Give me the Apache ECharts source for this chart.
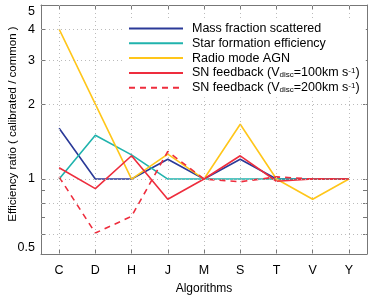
<!DOCTYPE html>
<html><head><meta charset="utf-8">
<script src="https://cdn.jsdelivr.net/npm/echarts@6/dist/echarts.min.js"></script>
<style>html,body{margin:0;padding:0;background:#fff}#c{width:374px;height:299px}</style>
</head><body><div id="c"></div>
<script>
const categories = ['C','D','H','J','M','S','T','V','Y'];
const massFraction = [1.6, 1.0, 1.0, 1.2, 1.0, 1.2, 1.0, 1.0, 1.0];
const starFormation = [1.0, 1.5, 1.25, 1.0, 1.0, 1.0, 1.0, 1.0, 1.0];
const radioAGN = [4.0, 2.0, 1.0, 1.26, 1.0, 1.66, 1.0, 0.83, 1.0];
const snFeedback100 = [1.11, 0.915, 1.24, 0.83, 1.0, 1.24, 0.98, 1.0, 1.0];
const snFeedback200 = [1.02, 0.607, 0.708, 1.29, 1.0, 0.975, 1.02, 1.0, 1.0];
const yTickLabels = [0.5, 1, 2, 3, 4, 5];
const yTicks = [0.5, 0.6, 0.7, 0.8, 0.9, 1, 2, 3, 4, 5];
const yGridValues = [0.6, 0.8, 1, 2, 3, 4];

const FONT = '"Liberation Sans", Arial, Helvetica, sans-serif';
const AXIS_COLOR = '#777';
const names = ['Mass fraction scattered','Star formation efficiency','Radio mode AGN',
  'SN feedback (Vdisc=100km s-1)','SN feedback (Vdisc=200km s-1)'];
const legendRich = {};
legendRich[names[3]] = 'SN feedback (V{sub|disc}=100km s{sup|-1})';
legendRich[names[4]] = 'SN feedback (V{sub|disc}=200km s{sup|-1})';

const chart = echarts.init(document.getElementById('c'), null, {renderer:'canvas'});
const mkSeries = (name, data, color, dashed) => ({
  name, type:'line', data, symbol:'none', xAxisIndex:0, yAxisIndex:0,
  lineStyle:{color, width:1.6, type: dashed ? [6,5] : 'solid'},
  itemStyle:{color}, emphasis:{disabled:true}, z:3
});
const option = {
  animation:false,
  textStyle:{fontFamily:FONT},
  grid:{left:41, right:7, top:5, bottom:45, containLabel:false, outerBoundsMode:'none'},
  legend:{
    orient:'vertical', left:123, top:19, padding:[3,6,3,5], backgroundColor:'#fff',
    itemGap:1.8, itemWidth:54, itemHeight:12.5, data:names,
    itemStyle:{opacity:0, borderWidth:0},
    formatter: n => legendRich[n] || n,
    textStyle:{fontSize:12.5, color:'#000', fontFamily:FONT, lineHeight:12.5, padding:[0,0,0,4],
      rich:{
        sub:{fontSize:8, lineHeight:5, verticalAlign:'bottom', color:'#000', fontFamily:FONT},
        sup:{fontSize:8, lineHeight:5, verticalAlign:'top', color:'#000', fontFamily:FONT}
      }},
    z:10
  },
  xAxis:[{
    type:'category', data:categories, position:'bottom', boundaryGap:true,
    axisLine:{show:true, lineStyle:{color:AXIS_COLOR, width:1}},
    axisTick:{show:true, inside:true, alignWithLabel:true, length:4, lineStyle:{color:AXIS_COLOR}},
    axisLabel:{color:'#000', fontSize:12.5, margin:10, fontFamily:FONT},
    splitLine:{show:false},
    name:'Algorithms', nameLocation:'middle', nameGap:29, nameMoveOverlap:false,
    nameTextStyle:{color:'#000', fontSize:12, fontFamily:FONT}
  },{
    type:'category', data:categories, position:'top', boundaryGap:true,
    axisLine:{show:true, lineStyle:{color:AXIS_COLOR, width:1}},
    axisTick:{show:true, inside:true, alignWithLabel:true, length:4, lineStyle:{color:AXIS_COLOR}},
    axisLabel:{show:false}, splitLine:{show:false}
  }],
  yAxis:[{
    type:'log', logBase:10, min:0.5, max:5, position:'left',
    axisLine:{show:true, lineStyle:{color:AXIS_COLOR, width:1}},
    axisTick:{show:true, inside:true, length:4, customValues:yTicks, lineStyle:{color:AXIS_COLOR}},
    axisLabel:{color:'#000', fontSize:12.5, margin:6, fontFamily:FONT, customValues:yTickLabels,
      formatter: v => String(+v.toFixed(2)),
      verticalAlignMinLabel:'bottom', verticalAlignMaxLabel:'top'},
    splitLine:{show:false},
    name:'Efficiency ratio ( calibrated / common )', nameLocation:'middle', nameGap:22,
    nameMoveOverlap:false,
    nameTextStyle:{color:'#000', fontSize:11.5, fontFamily:FONT, padding:[0,0,0,11]}
  },{
    type:'log', logBase:10, min:0.5, max:5, position:'right',
    axisLine:{show:true, lineStyle:{color:AXIS_COLOR, width:1}},
    axisTick:{show:true, inside:true, length:4, customValues:yTicks, lineStyle:{color:AXIS_COLOR}},
    axisLabel:{show:false}, splitLine:{show:false}
  }],
  series:[
    {
      name:'grid', type:'line', data:[], xAxisIndex:0, yAxisIndex:0, z:1, silent:true,
      markLine:{silent:true, symbol:'none', animation:false, label:{show:false},
        lineStyle:{color:'#bbb', width:1, type:[1,3]}, emphasis:{disabled:true},
        data:[...yGridValues.map(v => ({yAxis:v})), ...categories.map(c => ({xAxis:c}))]}
    },
    mkSeries(names[0], massFraction, '#2b3a98', false),
    mkSeries(names[1], starFormation, '#20b3ad', false),
    mkSeries(names[2], radioAGN, '#ffc61a', false),
    mkSeries(names[3], snFeedback100, '#ee2d3d', false),
    mkSeries(names[4], snFeedback200, '#ee2d3d', true)
  ]
};
chart.setOption(option);
</script></body></html>
